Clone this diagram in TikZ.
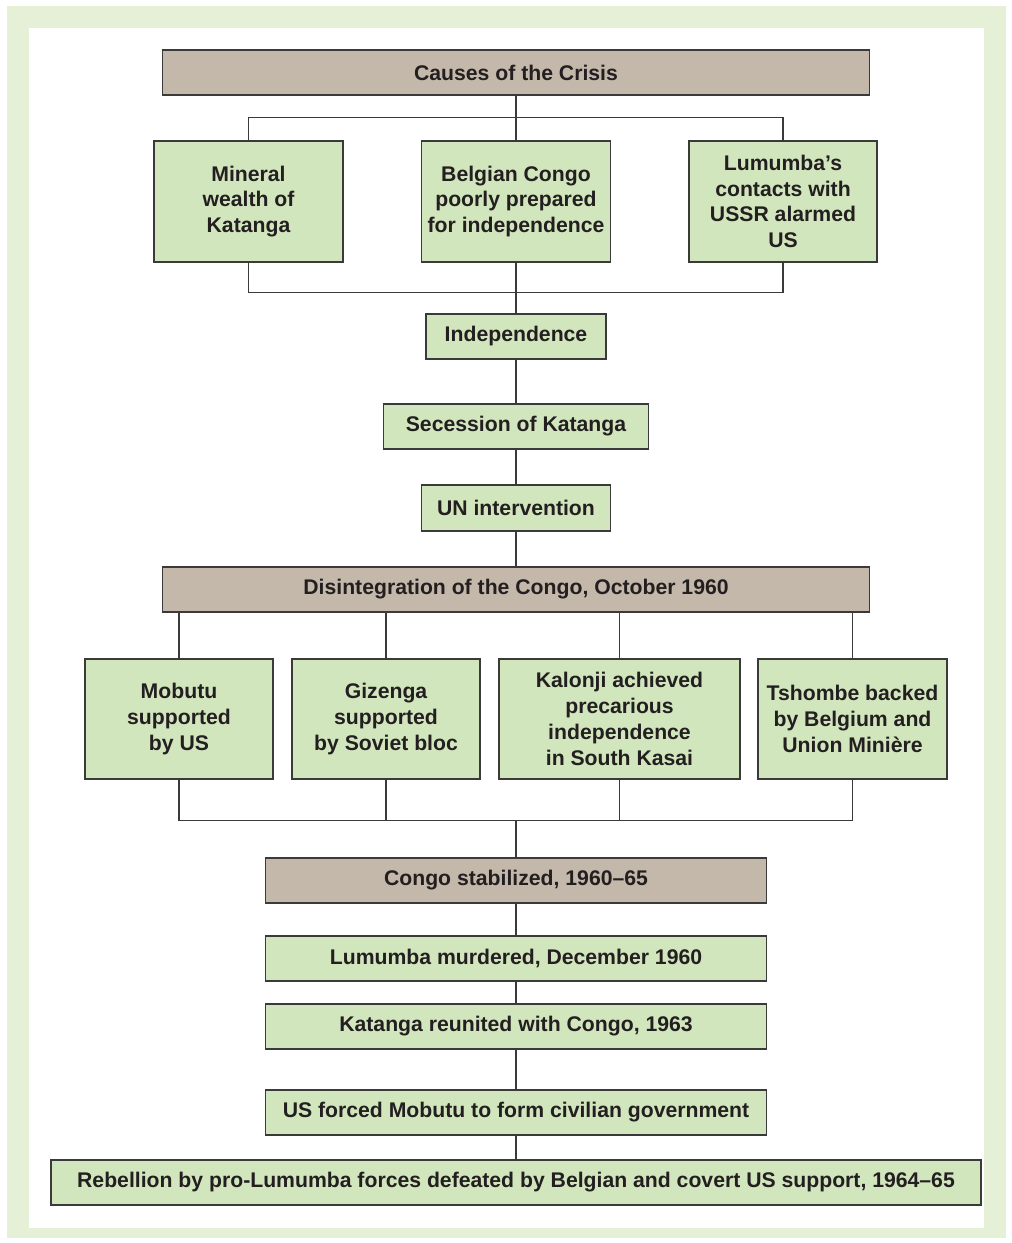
\documentclass[tikz,border=0pt]{standalone}
\usepackage{fontspec}
\setmainfont{Liberation Sans}
\definecolor{framegreen}{HTML}{E5F0D6}
\definecolor{boxgreen}{HTML}{D2E6BD}
\definecolor{boxbrown}{HTML}{C4B8AA}
\definecolor{edge}{HTML}{3A3A3A}
\definecolor{ink}{HTML}{231F20}
\begin{document}
\begin{tikzpicture}[x=1pt,y=-1pt,
  box/.style={draw=edge, line width=1.2pt, fill=boxgreen, align=center,
    inner sep=0pt, text=ink, font=\bfseries\fontsize{21.2}{25.8}\selectfont},
  headbox/.style={box, fill=boxbrown},
  link/.style={draw=edge, line width=1.3pt}]
% page frame
\useasboundingbox (0,0) rectangle (1012,1243);
\fill[framegreen] (7,6) rectangle (1006,1238);
\fill[white] (29,28) rectangle (984,1228);

% causes
\node[headbox, minimum width=707pt, minimum height=45pt] (causes) at (516,72.5) {Causes of the Crisis};
\node[box, minimum width=189pt, minimum height=121pt] (mineral) at (248.5,201.5) {Mineral\\wealth of\\Katanga};
\node[box, minimum width=189pt, minimum height=121pt] (belgian) at (516,201.5) {Belgian Congo\\poorly prepared\\for independence};
\node[box, minimum width=188pt, minimum height=121pt] (contacts) at (783,201.5) {Lumumba’s\\contacts with\\USSR alarmed\\US};

% chain to the UN
\node[box, minimum width=180pt, minimum height=45pt] (indep) at (516,336.5) {Independence};
\node[box, minimum width=265pt, minimum height=45pt] (secession) at (516,426.5) {Secession of Katanga};
\node[box, minimum width=189pt, minimum height=46pt] (un) at (516,508) {UN intervention};

% disintegration
\node[headbox, minimum width=707pt, minimum height=45pt] (disint) at (516,589.5) {Disintegration of the Congo, October 1960};
\node[box, minimum width=188pt, minimum height=120pt] (mobutu) at (179,719) {Mobutu\\supported\\by US};
\node[box, minimum width=188pt, minimum height=120pt] (gizenga) at (386,719) {Gizenga\\supported\\by Soviet bloc};
\node[box, minimum width=241pt, minimum height=120pt] (kalonji) at (619.5,719) {Kalonji achieved\\precarious\\independence\\in South Kasai};
\node[box, minimum width=189pt, minimum height=120pt] (tshombe) at (852.5,719) {Tshombe backed\\by Belgium and\\Union Minière};

% stabilization
\node[headbox, minimum width=501pt, minimum height=45pt] (stab) at (516,880.5) {Congo stabilized, 1960–65};
\node[box, minimum width=501pt, minimum height=45pt] (murder) at (516,958.5) {Lumumba murdered, December 1960};
\node[box, minimum width=501pt, minimum height=45pt] (reunite) at (516,1026.5) {Katanga reunited with Congo, 1963};
\node[box, minimum width=501pt, minimum height=45pt] (civil) at (516,1112.5) {US forced Mobutu to form civilian government};
\node[box, minimum width=930pt, minimum height=45pt] (rebel) at (516,1182.5) {Rebellion by pro-Lumumba forces defeated by Belgian and covert US support, 1964–65};

% connectors: causes
\draw[link] (causes.south) -- (belgian.north);
\draw[link] (mineral.north) -- ++(0,-23) -| (contacts.north);
\draw[link] (mineral.south) -- ++(0,30) -| (contacts.south);
\draw[link] (belgian.south) -- (indep.north);
\draw[link] (indep.south) -- (secession.north);
\draw[link] (secession.south) -- (un.north);
\draw[link] (un.south) -- (disint.north);

% connectors: disintegration
\draw[link] (disint.south -| mobutu.north) -- (mobutu.north);
\draw[link] (disint.south -| gizenga.north) -- (gizenga.north);
\draw[link] (disint.south -| kalonji.north) -- (kalonji.north);
\draw[link] (disint.south -| tshombe.north) -- (tshombe.north);
\coordinate (join) at (516,820);
\draw[link] (mobutu.south) -- ++(0,41) -| (tshombe.south);
\draw[link] (gizenga.south) -- ++(0,41);
\draw[link] (kalonji.south) -- ++(0,41);
\draw[link] (join) -- (stab.north);

% connectors: stabilization
\draw[link] (stab.south) -- (murder.north);
\draw[link] (murder.south) -- (reunite.north);
\draw[link] (reunite.south) -- (civil.north);
\draw[link] (civil.south) -- (rebel.north);
\end{tikzpicture}
\end{document}
